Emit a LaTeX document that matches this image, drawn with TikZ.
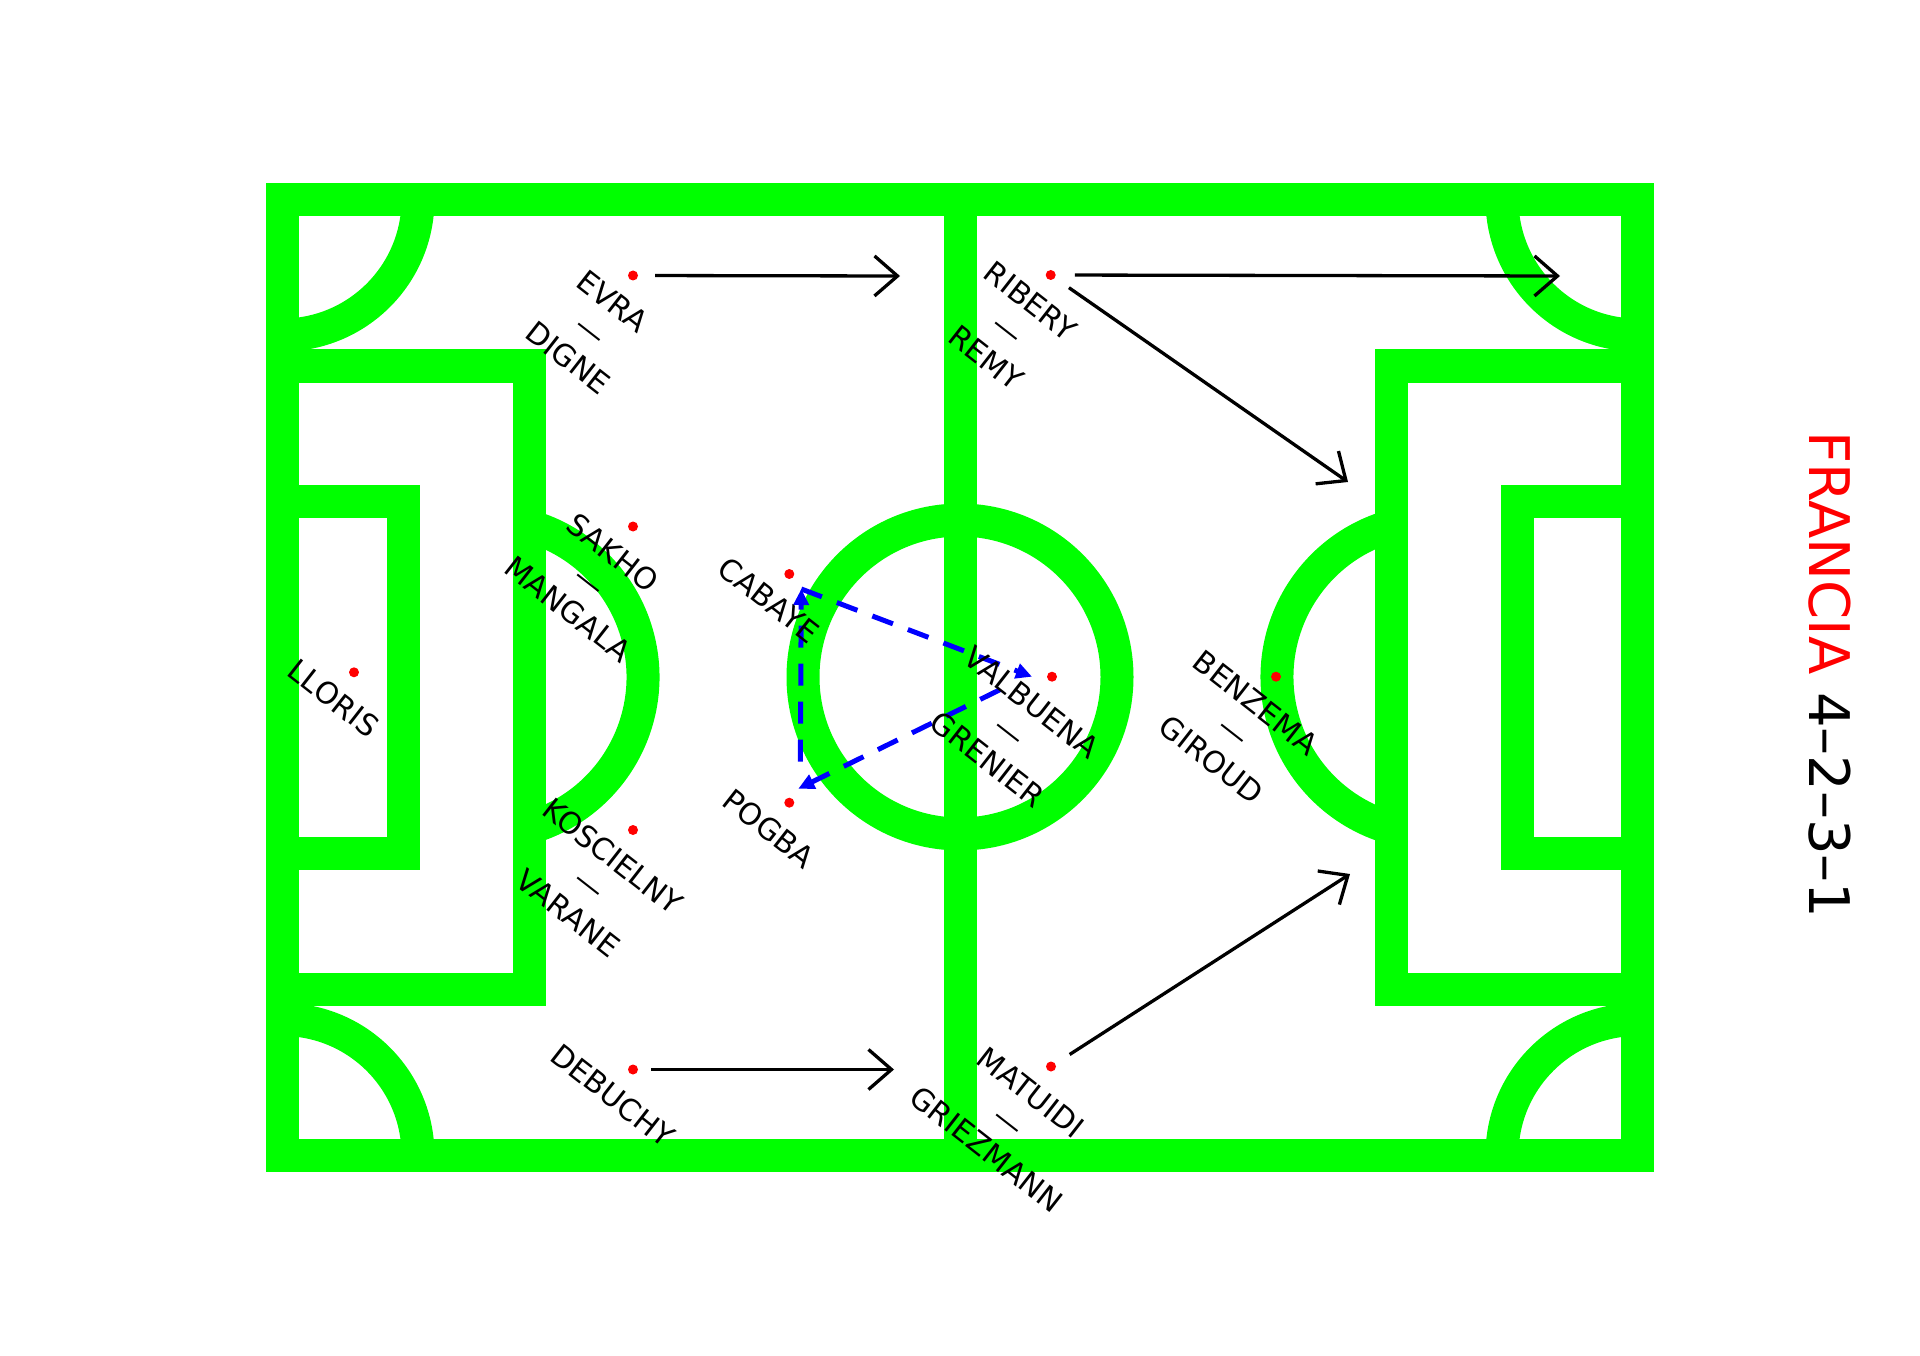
\documentclass[tikz,border=0pt]{standalone}
\usepackage{fontspec}
\setmainfont{DejaVu Sans}
\usetikzlibrary{arrows.meta,calc}
\definecolor{pitchgreen}{RGB}{0,255,0}
\definecolor{dotred}{RGB}{255,0,0}
\definecolor{linkblue}{RGB}{0,0,255}
\begin{document}
\begin{tikzpicture}[x=1pt,y=1pt,
  pitch/.style={draw=pitchgreen, line width=33pt},
  pdot/.style={circle, fill=dotred, inner sep=0pt, minimum size=10pt},
  lbl/.style={rotate=-38, align=center, inner sep=0pt, font=\fontsize{30}{36}\selectfont},
  move/.style={draw=black, line width=3.3pt, -{Straight Barb[length=23pt,width=40pt]}},
  link/.style={draw=linkblue, line width=5pt, dash pattern=on 22pt off 16pt, -{Triangle[length=16pt,width=15pt]}},
  title/.style={rotate=-90, inner sep=0pt, font=\fontsize{56}{60}\selectfont}]
\useasboundingbox (0,0) rectangle (1920,-1356);
% pitch
\draw[pitch] (282.5,-199.5) rectangle (1637.5,-1155);
\draw[pitch] (960,-199.5) -- (960,-1155);
\draw[pitch] (960,-677) circle (157);
\draw[pitch] (282.5,-366) rectangle (529,-989);
\draw[pitch] (1391,-366) rectangle (1637.5,-989);
\draw[pitch] (282.5,-501) rectangle (403,-853);
\draw[pitch] (1517,-501) rectangle (1637.5,-853);
\draw[pitch] (486,-677) ++(-74:157) arc[start angle=-74, end angle=74, radius=157];
\draw[pitch] (1434,-677) ++(106:157) arc[start angle=106, end angle=254, radius=157];
\draw[pitch] (282.5,-199.5) ++(-90:135.5) arc[start angle=-90, end angle=0, radius=135.5];
\draw[pitch] (1637.5,-199.5) ++(180:135.5) arc[start angle=180, end angle=270, radius=135.5];
\draw[pitch] (282.5,-1155) ++(0:135.5) arc[start angle=0, end angle=90, radius=135.5];
\draw[pitch] (1637.5,-1155) ++(90:135.5) arc[start angle=90, end angle=180, radius=135.5];
% players
\node[pdot] (lloris) at (354,-672.3) {};
\node[pdot] (evra) at (633,-275.5) {};
\node[pdot] (sakho) at (633,-526.5) {};
\node[pdot] (kosc) at (633,-830) {};
\node[pdot] (debuchy) at (633,-1069.5) {};
\node[pdot] (cabaye) at (789.3,-574) {};
\node[pdot] (pogba) at (789.3,-802.7) {};
\node[pdot] (ribery) at (1050.7,-275) {};
\node[pdot] (valbuena) at (1052,-676.7) {};
\node[pdot] (matuidi) at (1051,-1066.5) {};
\node[pdot] (benzema) at (1276,-676.7) {};
% movement arrows
\coordinate (evraT) at (900,-276);
\coordinate (debuchyT) at (894,-1069.5);
\coordinate (riberyT1) at (1560,-276);
\coordinate (riberyT2) at (1348,-482);
\coordinate (matuidiT) at (1350,-874);
\draw[move, shorten <=17pt] (evra) -- (evraT);
\draw[move, shorten <=13pt] (debuchy) -- (debuchyT);
\draw[move, shorten <=19pt] (ribery) -- (riberyT1);
\draw[move, shorten <=17pt] (ribery) -- (riberyT2);
\draw[move, shorten <=17pt] (matuidi) -- (matuidiT);
% passing triangle
\coordinate (cabV) at ($(cabaye)+(12,-15)$);
\coordinate (valV) at ($(valbuena)+(-20,0)$);
\coordinate (valS) at ($(valbuena)+(-52,-13)$);
\coordinate (pogV) at ($(pogba)+(9,14)$);
\coordinate (pogS) at ($(pogba)+(11,41)$);
\draw[link] (cabV) -- (valV);
\draw[link] (valS) -- (pogV);
\draw[link] (pogS) -- (cabV);
% labels
\node[lbl] (llorisL) at ($(lloris)+(-128:33)$) {LLORIS};
\node[lbl] (evraL) at ($(evra)+(-128:69)$) {EVRA\\—\\DIGNE};
\node[lbl] (sakhoL) at ($(sakho)+(-128:69)$) {SAKHO\\—\\MANGALA};
\node[lbl] (koscL) at ($(kosc)+(-128:69)$) {KOSCIELNY\\—\\VARANE};
\node[lbl] (debuchyL) at ($(debuchy)+(-128:33)$) {DEBUCHY};
\node[lbl] (cabayeL) at ($(cabaye)+(-128:33)$) {CABAYE};
\node[lbl] (pogbaL) at ($(pogba)+(-128:33)$) {POGBA};
\node[lbl] (riberyL) at ($(ribery)+(-128:69)$) {RIBERY\\—\\REMY};
\node[lbl] (valbuenaL) at ($(valbuena)+(-128:69)$) {VALBUENA\\—\\GRENIER};
\node[lbl] (matuidiL) at ($(matuidi)+(-128:69)$) {MATUIDI\\—\\GRIEZMANN};
\node[lbl] (benzemaL) at ($(benzema)+(-128:69)$) {BENZEMA\\—\\GIROUD};
% title
\node[title] (titleT) at (1830,-675) {\textcolor{dotred}{FRANCIA} 4–2–3–1};
\end{tikzpicture}
\end{document}
